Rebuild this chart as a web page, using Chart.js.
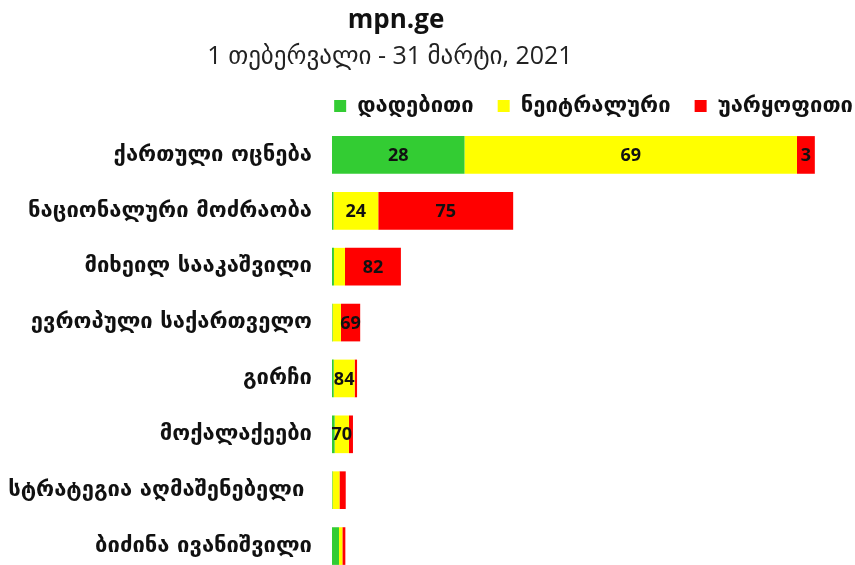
<!DOCTYPE html>
<html>
<head>
<meta charset="utf-8">
<script src="https://cdn.jsdelivr.net/npm/chart.js@4"></script>
<style>
  html, body { margin: 0; padding: 0; background: #fff; overflow: hidden; }
  canvas { display: block; }
</style>
</head>
<body>
<canvas id="toneChart" width="855" height="580"></canvas>
<script>
// categories (top to bottom)
const categories = [
  'ქართული ოცნება',
  'ნაციონალური მოძრაობა',
  'მიხეილ სააკაშვილი',
  'ევროპული საქართველო',
  'გირჩი',
  'მოქალაქეები',
  'სტრატეგია აღმაშენებელი ',
  'ბიძინა ივანიშვილი'
];

// bar lengths (relative volume of coverage)
const positive = [27.5, 0.3, 0.4, 0.1, 0.35, 0.55, 0.1, 1.45];
const neutral  = [69.0, 9.3, 2.3, 1.75, 4.35, 2.97, 1.45, 0.7];
const negative = [3.7, 28.0, 11.6, 4.0, 0.5, 0.83, 1.3, 0.62];

// percentage labels printed inside the bars (null = not shown)
const positiveLabels = ['28', null, null, null, null, null, null, null];
const neutralLabels  = ['69', '24', null, null, '84', '70', null, null];
const negativeLabels = ['3', '75', '82', '69', null, null, null, null];

const seriesNames = ['დადებითი', 'ნეიტრალური', 'უარყოფითი'];
const titleText = 'mpn.ge';
const subtitleText = '1 თებერვალი - 31 მარტი, 2021';

// the heading sits left of the page centre in the original, so draw it by hand
const heading = {
  id: 'heading',
  afterLayout(chart) {
    // push the legend flush with the right edge like the original
    chart.legend.left += 27;
    chart.legend.right += 27;
  },
  afterDraw(chart) {
    const ctx = chart.ctx;
    ctx.save();
    ctx.textAlign = 'center';
    ctx.textBaseline = 'middle';
    ctx.fillStyle = '#111';
    ctx.font = 'bold 26px "Open Sans", "DejaVu Sans"';
    ctx.fillText(titleText, 396, 21);
    ctx.fillStyle = '#222';
    ctx.font = '25px "Open Sans", "DejaVu Sans"';
    ctx.fillText(subtitleText, 390, 57);
    ctx.restore();
  }
};

const segmentLabels = {
  id: 'segmentLabels',
  afterDatasetsDraw(chart) {
    const ctx = chart.ctx;
    const labelSets = [positiveLabels, neutralLabels, negativeLabels];
    ctx.save();
    ctx.font = 'bold 18px "Open Sans", "DejaVu Sans"';
    ctx.fillStyle = '#111';
    ctx.textAlign = 'center';
    ctx.textBaseline = 'middle';
    chart.data.datasets.forEach((ds, i) => {
      chart.getDatasetMeta(i).data.forEach((bar, j) => {
        const txt = labelSets[i][j];
        if (txt == null) return;
        const p = bar.getProps(['x', 'base', 'y'], true);
        ctx.fillText(txt, (p.x + p.base) / 2, p.y + 1);
      });
    });
    ctx.restore();
  }
};

new Chart(document.getElementById('toneChart'), {
  type: 'bar',
  data: {
    labels: categories,
    datasets: [
      { label: seriesNames[0], data: positive, backgroundColor: '#33cc33' },
      { label: seriesNames[1], data: neutral, backgroundColor: '#ffff00' },
      { label: seriesNames[2], data: negative, backgroundColor: '#ff0000' }
    ]
  },
  options: {
    indexAxis: 'y',
    responsive: false,
    animation: false,
    events: [],
    layout: { padding: { left: 0, right: 5, top: 71, bottom: 6 } },
    datasets: { bar: { barPercentage: 0.674, categoryPercentage: 1 } },
    scales: {
      x: { stacked: true, display: false, min: 0, max: 107.5 },
      y: {
        stacked: true,
        grid: { display: false },
        border: { display: false },
        ticks: {
          color: '#111',
          padding: 12,
          font: { family: '"DejaVu Sans"', size: 22, weight: 'bold' }
        },
        afterFit(scale) {
          scale.width = 332;
          scale.paddingTop = 0;
          scale.paddingBottom = 0;
        }
      }
    },
    plugins: {
      title: { display: false },
      legend: {
        position: 'top',
        align: 'end',
        labels: {
          color: '#111',
          boxWidth: 12,
          boxHeight: 12,
          padding: 24,
          font: { family: '"DejaVu Sans"', size: 22, weight: 'bold' }
        }
      },
      tooltip: { enabled: false }
    }
  },
  plugins: [segmentLabels, heading]
});
</script>
</body>
</html>
